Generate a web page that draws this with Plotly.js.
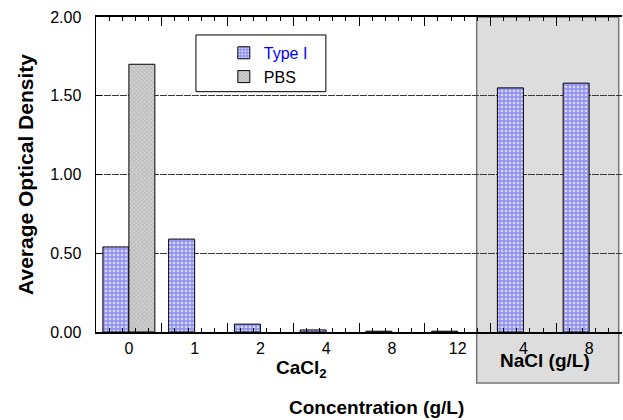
<!DOCTYPE html>
<html>
<head>
<meta charset="utf-8">
<script src="https://cdn.plot.ly/plotly-3.0.1.min.js"></script>
<style>
html,body{margin:0;padding:0;background:#fff;}
#chart{width:623px;height:420px;}
</style>
</head>
<body>
<div id="chart"></div>
<script>
// ---- data ----
var tickLabels = ['0', '1', '2', '4', '8', '12', '4', '8'];
var typeIValues = [0.54, 0.59, 0.05, 0.013, 0.005, 0.005, 1.55, 1.58];
var pbsValues = [1.70, null, null, null, null, null, null, null];
var seriesNames = ['Type I', 'PBS'];
var groupLabels = ['CaCl<sub>2</sub>', 'NaCl (g/L)'];
var xTitle = 'Concentration (g/L)';
var yTitle = 'Average Optical Density';

var xPos = tickLabels.map(function (_, i) { return i; });
var FONT = 'Arial, "Liberation Sans", Helvetica, sans-serif';
var xRange = [-0.5, xPos.length - 0.5];

var traces = [
  {
    type: 'bar', x: xPos, y: typeIValues,
    name: '<span style="color:#0000ff">' + seriesNames[0] + '</span>',
    marker: {
      color: '#9a9af5',
      line: {color: '#000', width: 1},
      pattern: {shape: '.', bgcolor: '#9494f0', fgcolor: '#d8d8ff', size: 4, solidity: 0.35}
    },
    hoverinfo: 'skip'
  },
  {
    type: 'bar', x: xPos, y: pbsValues,
    name: seriesNames[1],
    marker: {
      color: '#c4c4c4',
      line: {color: '#000', width: 1},
      pattern: {shape: 'x', bgcolor: '#cfcfcf', fgcolor: '#a8a8a8', size: 3, solidity: 0.3}
    },
    hoverinfo: 'skip'
  },
  // carrier (draws nothing) for the tick-mark axis at the category boundaries
  {
    type: 'scatter', x: xPos, y: typeIValues, xaxis: 'x2', yaxis: 'y',
    mode: 'none', showlegend: false, hoverinfo: 'skip'
  }
];

var layout = {
  width: 623, height: 420,
  margin: {l: 96, r: 1, t: 17, b: 88},
  paper_bgcolor: '#ffffff',
  plot_bgcolor: 'rgba(0,0,0,0)',
  font: {family: FONT, size: 16, color: '#000'},
  barmode: 'group',
  bargap: 0.21,
  bargroupgap: 0,
  showlegend: true,
  legend: {
    x: 0.243, y: 0.94, xanchor: 'left', yanchor: 'top',
    bgcolor: 'rgba(0,0,0,0)', borderwidth: 0,
    font: {family: FONT, size: 16, color: '#000'},
    tracegroupgap: 0
  },
  xaxis: {
    range: xRange,
    tickmode: 'array', tickvals: xPos, ticktext: tickLabels,
    ticks: '', showgrid: false, zeroline: false, showline: false,
    ticklabelstandoff: 5,
    tickfont: {family: FONT, size: 16, color: '#000'},
    fixedrange: true
  },
  xaxis2: {
    overlaying: 'x', anchor: 'y', side: 'bottom',
    range: xRange,
    tickmode: 'linear', tick0: 0.5, dtick: 1,
    ticks: 'inside', ticklen: 9, tickwidth: 1, tickcolor: '#000',
    minor: {ticks: 'inside', tickmode: 'linear', tick0: 0.5, dtick: 0.2, ticklen: 4, tickwidth: 1, tickcolor: '#000', showgrid: false},
    showticklabels: false, showgrid: false, zeroline: false,
    showline: true, linecolor: '#000', linewidth: 2, mirror: 'ticks',
    fixedrange: true
  },
  yaxis: {
    range: [0, 2], tickmode: 'linear', tick0: 0, dtick: 0.5, tickformat: '.2f',
    ticks: 'inside', ticklen: 6, tickwidth: 1, tickcolor: '#000',
    showgrid: true, gridcolor: '#3a3a3a', gridwidth: 1, griddash: '7px,1px',
    zeroline: false,
    showline: true, linecolor: '#000', linewidth: 1.5, mirror: false,
    ticklabelstandoff: 10,
    tickfont: {family: FONT, size: 16, color: '#000'},
    title: {text: '<b>' + yTitle + '</b>', font: {family: FONT, size: 21, color: '#000'}, standoff: 11},
    fixedrange: true
  },
  shapes: [
    // NaCl region box
    {type: 'rect', layer: 'below', xref: 'x', yref: 'paper',
     x0: 5.29, x1: 7.45, y0: -0.162, y1: 1,
     fillcolor: '#dcdddc', line: {color: '#777777', width: 1.5}},
    // legend frame
    {type: 'rect', layer: 'above', xref: 'paper', yref: 'paper',
     x0: 0.19, x1: 0.437, y0: 0.763, y1: 0.943,
     fillcolor: '#ffffff', line: {color: '#000', width: 1}}
  ],
  annotations: [
    {xref: 'x', yref: 'paper', x: 2.63, y: -0.118, xanchor: 'center', yanchor: 'middle',
     text: '<b>' + groupLabels[0] + '</b>', showarrow: false,
     font: {family: FONT, size: 19, color: '#000'}},
    {xref: 'x', yref: 'paper', x: 6.33, y: -0.09, xanchor: 'center', yanchor: 'middle',
     text: '<b>' + groupLabels[1] + '</b>', showarrow: false,
     font: {family: FONT, size: 19, color: '#000'}},
    {xref: 'paper', yref: 'paper', x: 0.534, y: -0.241, xanchor: 'center', yanchor: 'middle',
     text: '<b>' + xTitle + '</b>', showarrow: false,
     font: {family: FONT, size: 19, color: '#000'}}
  ]
};

Plotly.newPlot('chart', traces, layout, {staticPlot: true, displayModeBar: false});
</script>
</body>
</html>
